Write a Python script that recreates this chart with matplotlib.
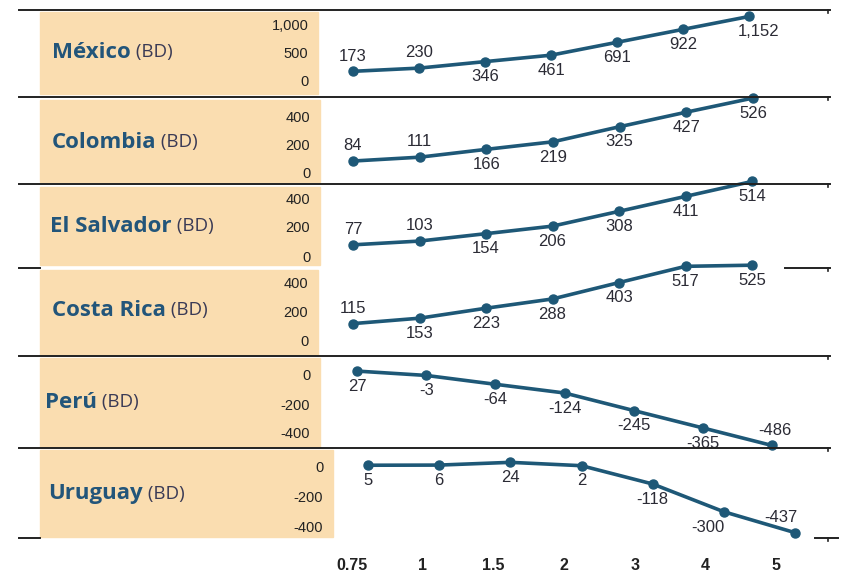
import matplotlib.pyplot as plt
from matplotlib.lines import Line2D
from matplotlib.patches import Rectangle

W, H = 841, 576

periods = ["0.75", "1", "1.5", "2", "3", "4", "5"]
countries = ["México", "Colombia", "El Salvador", "Costa Rica", "Perú", "Uruguay"]
mexico = [173, 230, 346, 461, 691, 922, 1152]
colombia = [84, 111, 166, 219, 325, 427, 526]
el_salvador = [77, 103, 154, 206, 308, 411, 514]
costa_rica = [115, 153, 223, 288, 403, 517, 525]
peru = [27, -3, -64, -124, -245, -365, -486]
uruguay = [5, 6, 24, 2, -118, -300, -437]
series = [mexico, colombia, el_salvador, costa_rica, peru, uruguay]
yticks = [[0, 500, 1000], [0, 200, 400], [0, 200, 400],
          [0, 200, 400], [-400, -200, 0], [-400, -200, 0]]

TAN = "#FADDB0"
LINE = "#1e5877"
NAME = "#22557a"

# layout in pixels: tan box (x0, y0, x1, y1), pixel of first/last tick, pixel x of first/last point
layout = [
    dict(box=(40, 12, 318, 94), tpx=(81, 25), xs=(353, 749), name_xy=(52, 52)),
    dict(box=(40, 100, 320, 182), tpx=(173, 116), xs=(353, 753), name_xy=(52, 142)),
    dict(box=(40, 187, 320, 265), tpx=(256, 198), xs=(353, 752), name_xy=(50, 226)),
    dict(box=(40, 270, 318, 355), tpx=(340, 283), xs=(353, 752), name_xy=(52, 310)),
    dict(box=(40, 358, 320, 447), tpx=(433, 375), xs=(357, 772), name_xy=(45, 402)),
    dict(box=(40, 450, 333, 537), tpx=(527, 466), xs=(368, 795), name_xy=(48, 494)),
]
# label placement: +1 above the point, -1 below; horizontal nudge in px
label_side = [
    [1, 1, -1, -1, -1, -1, -1],
    [1, 1, -1, -1, -1, -1, -1],
    [1, 1, -1, -1, -1, -1, -1],
    [1, -1, -1, -1, -1, -1, -1],
    [-1, -1, -1, -1, -1, -1, 1],
    [-1, -1, -1, -1, -1, -1, 1],
]
label_dx = [
    [0, 0, 0, 0, 0, 0, 10],
    [0] * 7,
    [0] * 7,
    [0] * 7,
    [0, 0, 0, 0, 0, 0, 3],
    [0, 0, 0, 0, 0, -16, -14],
]

fig = plt.figure(figsize=(W / 100, H / 100), dpi=100)
fig.patch.set_facecolor("white")
R = 830


def fx(x):
    return x / W


def fy(y):
    return 1 - y / H


def hline(y, x0, x1):
    fig.add_artist(Line2D([fx(x0), fx(x1)], [fy(y), fy(y)], transform=fig.transFigure,
                          color="#222222", lw=1.4))
    fig.add_artist(Line2D([fx(828), fx(828)], [fy(y), fy(y + 3)], transform=fig.transFigure,
                          color="#222222", lw=1.2))


hline(10, 19, R)
hline(97, 19, R)
hline(184, 19, R)
fig.add_artist(Line2D([fx(19), fx(40)], [fy(268)] * 2, transform=fig.transFigure, color="#222222", lw=1.4))
hline(268, 785, R)
hline(356, 19, R)
hline(448, 19, R)
fig.add_artist(Line2D([fx(19), fx(40)], [fy(538)] * 2, transform=fig.transFigure, color="#222222", lw=1.4))
hline(538, 815, 838)

for k, (name, vals, ticks, lay) in enumerate(zip(countries, series, yticks, layout)):
    x0, y0, x1, y1 = lay["box"]
    fig.add_artist(Rectangle((fx(x0), fy(y1)), fx(x1 - x0), (y1 - y0) / H,
                             transform=fig.transFigure, color=TAN, zorder=-5))

    ax = fig.add_axes([fx(x1), fy(y1), fx(R - x1), (y1 - y0) / H])
    ax.patch.set_visible(False)
    for s in ax.spines.values():
        s.set_visible(False)

    # y limits from the pixel rows of the first and last tick
    pa, pb = lay["tpx"]
    va, vb = ticks[0], ticks[-1]
    per_px = (vb - va) / (pb - pa)
    ax.set_ylim(va + (y1 - pa) * per_px, va + (y0 - pa) * per_px)

    p0, p6 = lay["xs"]
    s = (p6 - p0) / 6
    ax.set_xlim(-(p0 - x1) / s, 6 + (R - p6) / s)

    xs = range(len(vals))
    ax.plot(xs, vals, color=LINE, lw=2.6, marker="o", ms=6.5, clip_on=False,
            solid_capstyle="round")
    for i, v in enumerate(vals):
        ax.annotate(f"{v:,}", (i, v), xytext=(label_dx[k][i] * 0.72, label_side[k][i] * 11),
                    textcoords="offset points", ha="center", va="center",
                    annotation_clip=False,
                    fontsize=12, color="#2b2b35", family=["Liberation Sans", "DejaVu Sans"])

    ax.set_xticks([])
    ax.set_yticks(ticks)
    ax.set_yticklabels([f"{t:,}" for t in ticks], family=["Liberation Sans Narrow", "Liberation Sans"],
                       fontsize=10.5, color="#222222")
    ax.tick_params(axis="y", length=0, pad=7)

    nx, ny = lay["name_xy"]
    t = fig.text(fx(nx), fy(ny), name, fontsize=16, fontweight="bold", color=NAME,
                 family=["Open Sans", "DejaVu Sans"], va="center", ha="left")
    ax.annotate(" (BD)", xy=(1, 0.5), xycoords=t, va="center", ha="left",
                fontsize=13.5, color="#3a3a55", family=["Open Sans", "DejaVu Sans"],
                annotation_clip=False)

# shared category axis at the bottom
xax = fig.add_axes([fx(318), fy(552), fx(R - 318), 0.001])
xax.patch.set_visible(False)
for s in xax.spines.values():
    s.set_visible(False)
s = (776 - 352) / 6
xax.set_xlim(-(352 - 318) / s, 6 + (R - 776) / s)
xax.set_yticks([])
xax.set_xticks(range(len(periods)))
xax.set_xticklabels(periods, fontsize=11.5, fontweight="bold", color="#222222",
                    family=["Liberation Sans Narrow", "Liberation Sans"])
xax.tick_params(axis="x", length=0, pad=4)

fig.savefig("out.png", dpi=100)
